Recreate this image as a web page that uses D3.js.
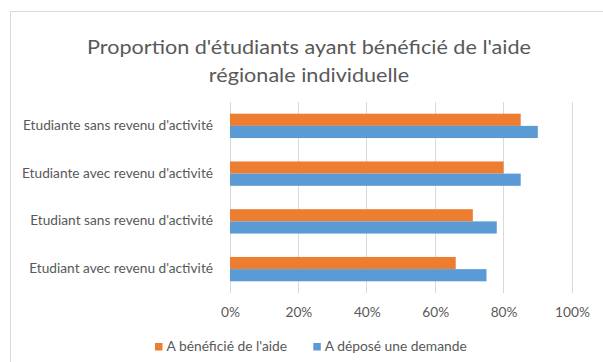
<!DOCTYPE html>
<html>
<head>
<meta charset="utf-8">
<script src="https://cdn.jsdelivr.net/npm/d3@7"></script>
<style>
  html, body { margin: 0; padding: 0; background: #fff; }
  svg { display: block; }
  text { font-family: Lato, "Open Sans", sans-serif; fill: #595959; }
</style>
</head>
<body>
<svg id="chart" width="603" height="362"></svg>
<script>
// Chart data
const titleLines = ["Proportion d'étudiants ayant bénéficié de l'aide", "régionale individuelle"];
const categories = [
  "Etudiante sans revenu d'activité",
  "Etudiante avec revenu d'activité",
  "Etudiant sans revenu d'activité",
  "Etudiant avec revenu d'activité"
];
const seriesNames = ["A bénéficié de l'aide", "A déposé une demande"];
const beneficie = [0.85, 0.80, 0.71, 0.66];
const depose = [0.90, 0.85, 0.78, 0.75];
const tickValues = [0, 0.2, 0.4, 0.6, 0.8, 1.0];
const colors = ["#ED7D31", "#5B9BD5"];

const svg = d3.select("#chart");

// Compress a text element horizontally so that it spans a given share of its natural width
function squeeze(sel, factor) {
  sel.each(function () {
    const w = this.getComputedTextLength();
    d3.select(this).attr("textLength", w * factor).attr("lengthAdjust", "spacingAndGlyphs");
  });
}
function natural(sel) { return sel.node().getComputedTextLength(); }

// Chart frame
svg.append("rect")
  .attr("x", 10.5).attr("y", 11.5)
  .attr("width", 700).attr("height", 500)
  .attr("fill", "#fff").attr("stroke", "#d9d9d9").attr("stroke-width", 1);

// Title
const title = svg.append("g").selectAll("text").data(titleLines).join("text")
  .attr("x", 309).attr("y", (d, i) => 54 + i * 28)
  .attr("text-anchor", "middle")
  .attr("font-size", 19.5)
  .text(d => d);
const titleFactor = 444 / natural(title.filter((d, i) => i === 0));
squeeze(title, titleFactor);

// Scales
const x = d3.scaleLinear().domain([0, 1]).range([230, 572]);
const y = d3.scaleBand().domain(categories).range([102, 293]).paddingInner(0.49).paddingOuter(0.245);
const ySub = d3.scaleBand().domain([0, 1]).range([0, y.bandwidth()]);

// Gridlines
svg.append("g").selectAll("line").data(tickValues).join("line")
  .attr("x1", d => x(d)).attr("x2", d => x(d))
  .attr("y1", 102).attr("y2", 293)
  .attr("stroke", "#d9d9d9").attr("stroke-width", 1)
  .attr("shape-rendering", "crispEdges");

// Bars
const rows = categories.map((c, i) => ({ cat: c, vals: [beneficie[i], depose[i]] }));
const groups = svg.append("g").selectAll("g").data(rows).join("g")
  .attr("transform", d => `translate(0,${y(d.cat)})`);
groups.selectAll("rect").data(d => d.vals.map((v, k) => ({ v, k }))).join("rect")
  .attr("x", x(0))
  .attr("y", d => ySub(d.k))
  .attr("width", d => x(d.v) - x(0))
  .attr("height", ySub.bandwidth())
  .attr("fill", d => colors[d.k]);

// Category axis labels
const yAxis = svg.append("g")
  .attr("transform", `translate(${x(0)},0)`)
  .call(d3.axisLeft(y).tickSize(0).tickPadding(17));
yAxis.select(".domain").remove();
const ylabels = yAxis.selectAll("text")
  .attr("font-size", 12.5).attr("font-family", null).attr("fill", "#595959");
const labelFactor = 190 / natural(ylabels.filter(d => d === categories[0]));
squeeze(ylabels, labelFactor);

// Value axis labels
const xAxis = svg.append("g")
  .attr("transform", "translate(0,293)")
  .call(d3.axisBottom(x).tickValues(tickValues).tickFormat(d3.format(".0%")).tickSize(0).tickPadding(15));
xAxis.select(".domain").remove();
const xlabels = xAxis.selectAll("text")
  .attr("font-size", 12.5).attr("font-family", null).attr("fill", "#595959");
squeeze(xlabels, labelFactor);

// Legend
const legendX = [155, 313.3];
const legend = svg.append("g").selectAll("g").data(seriesNames).join("g")
  .attr("transform", (d, i) => `translate(${legendX[i]},343)`);
legend.append("rect")
  .attr("width", 7.5).attr("height", 7.5)
  .attr("fill", (d, i) => colors[i]);
const legendText = legend.append("text")
  .attr("x", 11.5).attr("y", 8.3)
  .attr("font-size", 12.5)
  .text(d => d);
const legendFactor = 120.6 / natural(legendText.filter((d, i) => i === 0));
squeeze(legendText, legendFactor);
</script>
</body>
</html>
